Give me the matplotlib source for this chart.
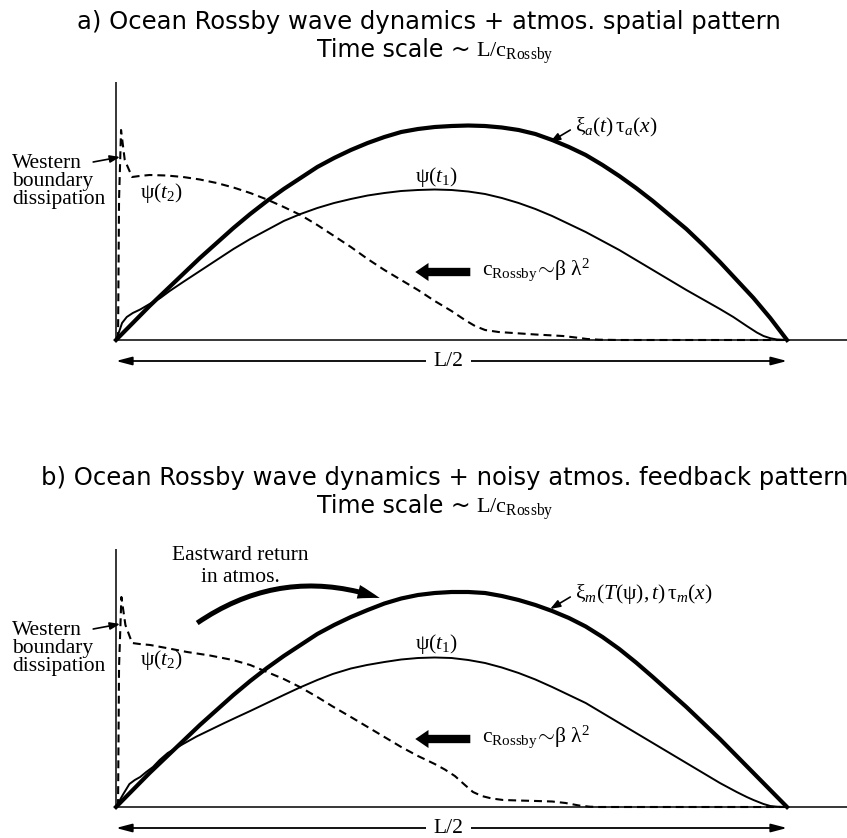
import matplotlib
matplotlib.use("Agg")
import matplotlib.pyplot as plt

plt.rcParams['mathtext.fontset'] = 'custom'
plt.rcParams['mathtext.rm'] = 'Liberation Serif'
plt.rcParams['mathtext.it'] = 'Liberation Serif:italic'
plt.rcParams['mathtext.bf'] = 'Liberation Serif:bold'

SERIF = 'Liberation Serif'
SANS = 'DejaVu Sans'
LABEL_SIZE = 15.5
TITLE_SIZE = 17.5

# ---- data: x in percent of the half basin width L/2, amplitudes in arbitrary units ----
x_forcing = [0, 2.5, 5, 7.5, 10, 12.5, 15, 17.5, 20, 22.5, 25, 27.5, 30, 32.5, 35, 37.5,
             40, 42.5, 45, 47.5, 50, 52.5, 55, 57.5, 60, 62.5, 65, 67.5, 70, 72.5, 75,
             77.5, 80, 82.5, 85, 87.5, 90, 92.5, 95, 97.5, 100]
forcing_a = [0, 17, 34, 50, 66, 82, 97, 112, 126, 139, 151, 162, 173, 182, 190, 197,
             203, 208, 211, 213, 214, 214.5, 214, 212.5, 210, 206, 200, 193, 185, 175, 164,
             152, 139, 125, 111, 95, 78, 60, 42, 22, 0]
forcing_b = [0, 17, 34, 50, 66, 82, 97, 112, 126, 139, 151, 162, 173, 182, 190, 197,
             203.5, 208.5, 212, 214, 215, 215, 214, 211, 207, 202, 196, 189, 180.5, 170, 158,
             144.5, 130, 115, 100, 84, 68, 51, 34, 17, 0]

x_psi1_a = [0, 0.5, 0.9, 1.6, 2.5, 3.6, 5, 6.6, 8, 10, 12.5, 15, 17.5, 20, 22.5, 25,
            27.5, 30, 32.5, 35, 37.5, 40, 42.5, 45, 47.5, 50, 52.5, 55, 57.5, 60, 62.5,
            65, 67.5, 70, 72.5, 75, 77.5, 80, 82.5, 85, 87.5, 90, 92, 94, 95.5, 96.5,
            97.5, 98.5, 100]
psi1_a = [0, 9, 17, 23, 27, 30.5, 36, 42, 49, 58, 69, 80, 91, 101, 110, 119,
          126, 132, 137, 141, 144.5, 147, 149, 150, 150.5, 150, 148.5, 146, 142, 137, 131,
          124, 116, 108, 99, 90, 80, 70, 60, 50, 40.5, 31, 23, 14, 7.5, 4,
          1.8, 0.5, 0]

x_psi1_b = [0, 0.5, 1, 2, 2.8, 3.6, 4.5, 5.5, 6.5, 7.7, 10, 12, 14, 16, 18, 20, 22.5,
            25, 27.4, 30, 32.3, 35, 37.4, 40, 42.5, 45, 47.5, 50, 52.5, 55, 57.5, 60,
            62.5, 65, 67.5, 70, 72.5, 75, 77.5, 80, 82.5, 85, 87.5, 90, 92.5, 94, 95,
            96.5, 97.5, 98.5, 100]
psi1_b = [0, 6, 12, 23, 27, 30, 35, 40, 47, 54, 63, 70.5, 77, 83.5, 89.8, 96, 104,
          112, 119.5, 127, 133, 138.5, 142, 145, 147.5, 149, 149.5, 149, 147, 144, 139.5, 134,
          127.5, 120, 112, 104, 94, 84, 74, 64, 54, 44, 34, 24, 15, 10, 7,
          3, 1, 0.3, 0]

x_psi2_a = [0.3, 0.45, 0.75, 1.3, 2.4, 3.5, 5, 7.5, 10, 12.5, 15, 17.5, 20, 22.5, 25,
            27.5, 30, 32.5, 35, 37.5, 40, 42.5, 45, 47.5, 50, 52, 53.5, 55, 57, 59.2,
            62.5, 66.6, 68.5, 70.2, 72, 75, 100]
psi2_a = [0, 140, 210, 180, 163, 164, 165, 164.5, 163, 160.5, 157, 152.5, 147, 140.5, 133,
          125, 115, 104, 93, 81, 70, 60, 50, 39, 29, 20, 14, 10, 8, 7,
          5.5, 4, 2.5, 1, 0.3, 0, 0]

x_psi2_b = [0.3, 0.45, 0.8, 1.4, 2.4, 3.5, 5.1, 7.5, 10.6, 14, 17.4, 20, 22.5, 25, 27.4,
            30, 32.3, 35, 37.5, 40, 42.5, 45, 47.5, 49, 50.5, 52, 53.2, 54.5, 56, 57.7,
            60, 62.7, 65, 67, 69, 70.6, 72, 100]
psi2_b = [0, 140, 210, 182, 164, 163, 162, 159, 155, 151.5, 147, 142, 135, 128, 120,
          110, 100.5, 90, 80, 70, 60, 51, 43, 37.5, 31, 22, 15, 11, 8.5, 7,
          6.5, 6, 5.5, 4, 1.5, 0.3, 0, 0]

titles = ["a) Ocean Rossby wave dynamics + atmos. spatial pattern",
          "b) Ocean Rossby wave dynamics + noisy atmos. feedback pattern"]
forcing_labels = [r'$\mathrm{\xi}_a(t)\,\mathrm{\tau}_a(x)$',
                  r'$\mathrm{\xi}_m(T(\mathrm{\psi}),t)\,\mathrm{\tau}_m(x)$']

# ---- figure layout ----
W, H = 847, 838
fig = plt.figure(figsize=(W / 100, H / 100), dpi=100)

XMIN, XMAX = -17.29, 108.94
YMIN, YMAX = -31, 275
AXIS_TOP = 258


def draw_panel(ax, xf, yf, x1, y1, x2, y2, flabel, eastward=False):
    ax.set_xlim(XMIN, XMAX)
    ax.set_ylim(YMIN, YMAX)
    ax.axis('off')

    # amplitude axis and zero line
    ax.plot([0, 0], [0, AXIS_TOP], color='k', lw=1.1, solid_capstyle='butt', zorder=2)
    ax.plot([0, XMAX], [0, 0], color='k', lw=1.1, solid_capstyle='butt', zorder=2)

    # curves
    ax.plot(xf, yf, color='k', lw=3.0, solid_joinstyle='round', zorder=3)
    ax.plot(x1, y1, color='k', lw=1.4, solid_joinstyle='round', zorder=3)
    ax.plot(x2, y2, color='k', lw=1.5, dashes=(3.8, 2.4), zorder=3)

    # L/2 span
    ax.annotate('', xy=(0, -21), xytext=(100, -21),
                arrowprops=dict(arrowstyle='<|-|>,head_length=0.95,head_width=0.25',
                                lw=1.3, color='k', shrinkA=0, shrinkB=0,
                                mutation_scale=10))
    ax.text(49.6, -21, 'L/2', ha='center', va='center', family=SERIF,
            fontsize=LABEL_SIZE, zorder=5,
            bbox=dict(fc='white', ec='none', boxstyle='square,pad=0.35'))

    # western boundary label
    ax.text(-15.5, 186, 'Western\nboundary\ndissipation', ha='left', va='top',
            family=SERIF, fontsize=LABEL_SIZE, linespacing=0.94)
    ax.annotate('', xy=(0.6, 183), xytext=(-3.4, 178),
                arrowprops=dict(arrowstyle='-|>,head_length=0.6,head_width=0.22',
                                lw=1.2, color='k', shrinkA=0, shrinkB=0,
                                mutation_scale=10))

    # forcing label
    ax.text(68.4, 208, flabel, ha='left', va='baseline', fontsize=LABEL_SIZE)
    ax.annotate('', xy=(64.7, 198), xytext=(67.7, 210),
                arrowprops=dict(arrowstyle='-|>,head_length=0.6,head_width=0.22',
                                lw=1.2, color='k', shrinkA=0, shrinkB=0,
                                mutation_scale=10))

    # streamfunction labels
    ax.text(44.6, 158, r'$\mathrm{\psi}(t_1)$', ha='left', va='baseline',
            fontsize=LABEL_SIZE)
    ax.text(3.6, 142, r'$\mathrm{\psi}(t_2)$', ha='left', va='baseline',
            fontsize=LABEL_SIZE)

    # westward propagation
    ax.annotate('', xy=(44.6, 68), xytext=(52.8, 68),
                arrowprops=dict(arrowstyle='simple,head_length=9.5,head_width=13,tail_width=6',
                                color='k', lw=0, shrinkA=0, shrinkB=0,
                                mutation_scale=1))
    ax.text(54.5, 65, r'$\mathrm{c}_{\mathrm{Rossby}}\!\sim\!\mathrm{\beta}\ \mathrm{\lambda}^2$',
            ha='left', va='baseline', fontsize=LABEL_SIZE)

    if eastward:
        ax.text(18.5, 247, 'Eastward return', ha='center', va='baseline',
                family=SERIF, fontsize=LABEL_SIZE)
        ax.text(18.5, 225, 'in atmos.', ha='center', va='baseline',
                family=SERIF, fontsize=LABEL_SIZE)
        ax.annotate('', xy=(39.3, 209), xytext=(12.1, 184),
                    arrowprops=dict(arrowstyle='simple,head_length=16,head_width=10,tail_width=3.6',
                                    connectionstyle='arc3,rad=-0.25',
                                    color='k', lw=0, shrinkA=0, shrinkB=0,
                                    mutation_scale=1))


def px_rect(top_px, bottom_px):
    return [0, (H - bottom_px) / H, 1, (bottom_px - top_px) / H]


ax_a = fig.add_axes(px_rect(65, 371))
ax_b = fig.add_axes(px_rect(532, 838))

draw_panel(ax_a, x_forcing, forcing_a, x_psi1_a, psi1_a, x_psi2_a, psi2_a,
           forcing_labels[0])
draw_panel(ax_b, x_forcing, forcing_b, x_psi1_b, psi1_b, x_psi2_b, psi2_b,
           forcing_labels[1], eastward=True)


def title_block(line1, cx, base1, base2):
    fig.text(cx / W, 1 - base1 / H, line1, ha='center', va='baseline',
             family=SANS, fontsize=TITLE_SIZE)
    fig.text(471 / W, 1 - base2 / H, 'Time scale ~', ha='right', va='baseline',
             family=SANS, fontsize=17)
    fig.text(476 / W, 1 - base2 / H, r'$\mathrm{L/c}_{\mathrm{Rossby}}$',
             ha='left', va='baseline', fontsize=16)


title_block(titles[0], 429, 29, 57)
title_block(titles[1], 445, 485, 513)

fig.savefig('out.png', dpi=100)
